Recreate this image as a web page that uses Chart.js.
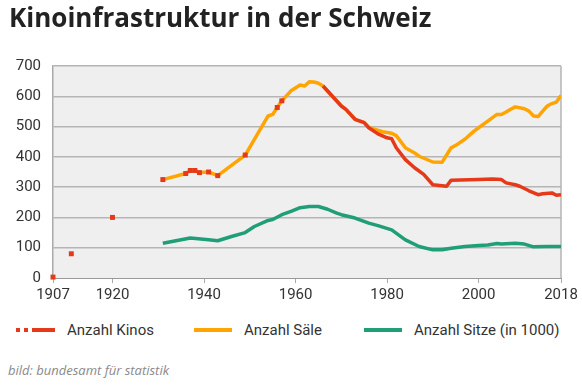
<!DOCTYPE html>
<html>
<head>
<meta charset="utf-8">
<script src="https://cdn.jsdelivr.net/npm/chart.js@4.4.0/dist/chart.umd.min.js"></script>
<style>
    body { margin: 0; background: #fff; }
    #wrap { position: relative; width: 582px; height: 385px; overflow: hidden; }
    #title { position: absolute; left: 9px; top: 4px; font: bold 26px "Open Sans"; line-height: 26px; color: #222; white-space: nowrap; }
    #chart { position: absolute; left: 0; top: 0; }
    .legend { position: absolute; top: 321px; font: 15px Roboto; line-height: 18px; color: #333; white-space: nowrap; }
    .sym { position: absolute; height: 4px; top: 7px; }
    #source { position: absolute; left: 8px; top: 361px; font: italic 13px "Open Sans"; line-height: 18px; color: #8a8a8a; }
</style>
</head>
<body>
<div id="wrap">
    <canvas id="chart" width="582" height="310"></canvas>
    <div id="title">Kinoinfrastruktur in der Schweiz</div>
    <div class="legend" style="left:15px; width:150px;">
        <span class="sym" style="left:1px; width:4px; background:#e5391a;"></span>
        <span class="sym" style="left:9px; width:4px; background:#e5391a;"></span>
        <span class="sym" style="left:17px; width:23px; background:#e5391a;"></span>
        <span style="position:absolute; left:52px;">Anzahl Kinos</span>
    </div>
    <div class="legend" style="left:194px; width:150px;">
        <span class="sym" style="left:0; width:38px; background:#ffa400;"></span>
        <span style="position:absolute; left:50px;">Anzahl Säle</span>
    </div>
    <div class="legend" style="left:364px; width:210px;">
        <span class="sym" style="left:0; width:38px; background:#1f9e78;"></span>
        <span style="position:absolute; left:50px;">Anzahl Sitze (in 1000)</span>
    </div>
    <div id="source">bild: bundesamt für statistik</div>
</div>
<script>
    // Kinos: single early values (drawn as dots), then yearly line
    var kinoDotYears = [1907, 1911, 1920, 1931, 1936, 1937, 1938, 1939, 1941, 1943, 1949, 1956, 1957];
    var kinoDotValues = [3, 80, 200, 325, 345, 355, 355, 348, 350, 338, 406, 563, 585];

    var kinoYears = [1966, 1968, 1970, 1971, 1973, 1975, 1976, 1978, 1980, 1981, 1982, 1984, 1986, 1988, 1990, 1993, 1994, 2000, 2003, 2005, 2006, 2008, 2009, 2011, 2013, 2014, 2016, 2017, 2018];
    var kinoValues = [634, 601, 568, 557, 524, 513, 496, 476, 463, 460, 430, 391, 364, 342, 308, 303, 323, 325, 327, 325, 314, 308, 303, 288, 275, 278, 281, 273, 275];

    // Säle
    var saleYears = [1931, 1936, 1937, 1938, 1939, 1941, 1943, 1949, 1954, 1955, 1956, 1957, 1959, 1961, 1962, 1963, 1964, 1965, 1966, 1968, 1970, 1971, 1973, 1975, 1976, 1977, 1979, 1981, 1982, 1984, 1986, 1987, 1990, 1992, 1994, 1995, 1997, 1999, 2000, 2002, 2004, 2005, 2006, 2007, 2008, 2010, 2011, 2012, 2013, 2014, 2015, 2016, 2017, 2018];
    var saleValues = [325, 345, 355, 355, 348, 350, 338, 406, 535, 540, 563, 585, 618, 637, 634, 648, 647, 643, 634, 601, 568, 557, 524, 513, 497, 492, 483, 478, 470, 430, 413, 402, 383, 382, 430, 438, 458, 485, 496, 518, 540, 540, 548, 557, 565, 559, 551, 535, 533, 551, 568, 576, 581, 603];

    // Sitze in 1000
    var sitzeYears = [1931, 1937, 1941, 1943, 1946, 1949, 1951, 1954, 1955, 1957, 1959, 1961, 1963, 1965, 1967, 1969, 1970, 1973, 1976, 1978, 1981, 1984, 1987, 1990, 1992, 1994, 1997, 2000, 2002, 2004, 2005, 2008, 2010, 2012, 2015, 2018];
    var sitzeValues = [115, 132, 126, 123, 137, 150, 170, 190, 193, 209, 220, 232, 236, 236, 227, 214, 209, 198, 181, 173, 159, 126, 104, 93, 93, 98, 104, 107, 109, 114, 112, 115, 112, 103, 104, 104];

    var xTicks = [1907, 1920, 1940, 1960, 1980, 2000, 2018];

    function pairs(xs, ys) {
        return xs.map(function (x, i) { return {x: x, y: ys[i]}; });
    }

    var red = '#e5391a', orange = '#ffa400', green = '#1f9e78';

    // grey plot background and right frame line
    var plotBg = {
        id: 'plotBg',
        beforeDraw: function (chart) {
            var ctx = chart.ctx, a = chart.chartArea;
            ctx.save();
            ctx.fillStyle = '#efefef';
            ctx.fillRect(a.left, a.top, a.right - a.left, a.bottom - a.top);
            ctx.strokeStyle = '#b5b5b5';
            ctx.lineWidth = 1.5;
            ctx.beginPath();
            ctx.moveTo(a.right, a.top);
            ctx.lineTo(a.right, a.bottom);
            ctx.stroke();
            ctx.restore();
        }
    };

    new Chart(document.getElementById('chart'), {
        type: 'line',
        data: {
            datasets: [{
                label: 'Anzahl Kinos',
                data: pairs(kinoDotYears, kinoDotValues),
                showLine: false,
                pointStyle: 'rect',
                pointRadius: 3.5,
                pointBorderWidth: 0,
                pointBackgroundColor: red,
                clip: false
            }, {
                label: 'Anzahl Kinos Linie',
                data: pairs(kinoYears, kinoValues),
                borderColor: red,
                borderWidth: 3.5,
                pointRadius: 0,
                tension: 0,
                borderJoinStyle: 'round'
            }, {
                label: 'Anzahl Säle',
                data: pairs(saleYears, saleValues),
                borderColor: orange,
                borderWidth: 3.5,
                pointRadius: 0,
                tension: 0,
                borderJoinStyle: 'round'
            }, {
                label: 'Anzahl Sitze (in 1000)',
                data: pairs(sitzeYears, sitzeValues),
                borderColor: green,
                borderWidth: 3.5,
                pointRadius: 0,
                tension: 0,
                borderJoinStyle: 'round'
            }]
        },
        options: {
            responsive: false,
            animation: false,
            layout: { padding: { top: 66, right: 21, left: 0, bottom: 0 } },
            plugins: {
                legend: { display: false },
                tooltip: { enabled: false }
            },
            scales: {
                x: {
                    type: 'linear',
                    min: 1907,
                    max: 2018,
                    afterBuildTicks: function (axis) {
                        axis.ticks = xTicks.map(function (v) { return {value: v}; });
                    },
                    afterFit: function (axis) { axis.height = 32; },
                    ticks: {
                        autoSkip: false,
                        maxRotation: 0,
                        padding: 3,
                        color: '#333',
                        font: { family: 'Roboto', size: 15 },
                        callback: function (v) { return String(v); }
                    },
                    grid: { drawOnChartArea: false, drawTicks: true, tickLength: 5, color: '#aaa' },
                    border: { color: '#999', width: 1, dash: [2, 2] }
                },
                y: {
                    min: 0,
                    max: 700,
                    afterFit: function (axis) { axis.width = 53; },
                    ticks: {
                        stepSize: 100,
                        padding: 12,
                        color: '#333',
                        font: { family: 'Roboto', size: 15 }
                    },
                    grid: {
                        drawTicks: false,
                        lineWidth: 1.5,
                        color: function (c) { return c.tick && c.tick.value === 0 ? 'rgba(0,0,0,0)' : '#b5b5b5'; }
                    },
                    border: { color: '#aaa', width: 1.5 }
                }
            }
        },
        plugins: [plotBg]
    });
</script>
</body>
</html>
